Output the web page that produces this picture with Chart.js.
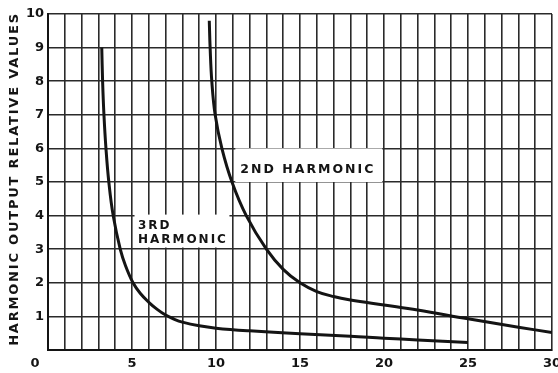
<!DOCTYPE html>
<html>
<head>
<meta charset="utf-8">
<script src="https://cdn.jsdelivr.net/npm/chart.js@4/dist/chart.umd.min.js"></script>
<style>
  html, body { margin: 0; padding: 0; background: #fff; }
  #wrap { width: 558px; height: 373px; }
</style>
</head>
<body>
<div id="wrap"><canvas id="c" width="558" height="373"></canvas></div>
<script>
// Harmonic output curves (relative values) against the x quantity 0..30
const secondX = [9.6, 9.65, 9.75, 9.95, 10.35, 10.95, 11.8, 13.0, 14.0, 15.0, 16.0, 17.0, 18.0, 20.0, 22.0, 25.0, 28.0, 30.0];
const secondY = [9.8, 9.0, 8.0, 7.0, 6.0, 5.0, 4.0, 3.0, 2.4, 2.0, 1.74, 1.59, 1.49, 1.34, 1.19, 0.93, 0.68, 0.52];

const thirdX = [3.2, 3.25, 3.33, 3.45, 3.62, 3.88, 4.3, 4.62, 5.06, 5.5, 6.0, 6.5, 7.0, 7.5, 8.0, 9.0, 10.0, 12.0, 15.0, 18.0, 20.0, 22.0, 25.0];
const thirdY = [9.0, 8.0, 7.0, 6.0, 5.0, 4.0, 3.0, 2.5, 2.0, 1.68, 1.42, 1.21, 1.04, 0.92, 0.83, 0.72, 0.65, 0.57, 0.48, 0.41, 0.35, 0.3, 0.22];

const xTickLabels = [0, 5, 10, 15, 20, 25, 30];
const yTickLabels = [1, 2, 3, 4, 5, 6, 7, 8, 9, 10];
const yTitle = 'HARMONIC OUTPUT RELATIVE VALUES';

// Curve captions: text lines, box corners and text anchor in data units
const notes = [
  { lines: ['2ND HARMONIC'], box: [11.15, 6.0, 19.9, 5.0], at: [11.45, 5.37], size: 12.5 },
  { lines: ['3RD', 'HARMONIC'], box: [5.15, 4.03, 10.8, 3.05], at: [5.35, 3.68], size: 12 }
];

const toPoints = (xs, ys) => xs.map((x, i) => ({ x: x, y: ys[i] }));

const INK = '#141414';
const FONT = "'DejaVu Sans', sans-serif";

const captions = {
  id: 'captions',
  beforeDatasetsDraw(chart) {
    const { ctx, scales: { x, y } } = chart;
    ctx.save();
    notes.forEach(n => {
      const x0 = x.getPixelForValue(n.box[0]);
      const y0 = y.getPixelForValue(n.box[1]);
      const x1 = x.getPixelForValue(n.box[2]);
      const y1 = y.getPixelForValue(n.box[3]);
      ctx.fillStyle = '#fff';
      ctx.fillRect(x0, y0, x1 - x0, y1 - y0);
    });
    ctx.restore();
  },
  afterDatasetsDraw(chart) {
    const { ctx, scales: { x, y } } = chart;
    ctx.save();
    ctx.fillStyle = INK;
    ctx.textBaseline = 'middle';
    ctx.textAlign = 'left';
    ctx.letterSpacing = '2px';
    notes.forEach(n => {
      ctx.font = 'bold ' + n.size + 'px ' + FONT;
      const px = x.getPixelForValue(n.at[0]);
      const py = y.getPixelForValue(n.at[1]);
      n.lines.forEach((t, i) => ctx.fillText(t, px, py + i * 14));
    });
    ctx.restore();
  },
  afterDraw(chart) {
    const { ctx, scales: { x, y } } = chart;
    ctx.save();
    ctx.fillStyle = INK;
    // the origin label sits below and left of the corner
    ctx.font = 'bold 13px ' + FONT;
    ctx.textAlign = 'center';
    ctx.textBaseline = 'middle';
    ctx.fillText(String(xTickLabels[0]), x.getPixelForValue(0) - 13, y.bottom + 14);
    // spaced-out vertical axis title
    ctx.letterSpacing = '1.8px';
    ctx.translate(15, (y.top + y.bottom) / 2 - 3);
    ctx.rotate(-Math.PI / 2);
    ctx.fillText(yTitle, 0, 0);
    ctx.restore();
  }
};

new Chart(document.getElementById('c'), {
  type: 'line',
  data: {
    datasets: [
      { label: '2nd harmonic', data: toPoints(secondX, secondY) },
      { label: '3rd harmonic', data: toPoints(thirdX, thirdY) }
    ]
  },
  options: {
    responsive: false,
    animation: false,
    devicePixelRatio: 1,
    layout: { padding: { top: 14, right: 6, bottom: 0, left: 0 } },
    elements: {
      line: { borderColor: INK, borderWidth: 3, tension: 0.4, fill: false },
      point: { radius: 0, hoverRadius: 0 }
    },
    plugins: { legend: { display: false }, tooltip: { enabled: false } },
    scales: {
      x: {
        type: 'linear',
        min: 0, max: 30,
        border: { display: true, color: INK, width: 2 },
        grid: { color: '#2a2a2a', lineWidth: 1.6, drawTicks: false },
        ticks: {
          stepSize: 1, autoSkip: false, maxRotation: 0, padding: 6,
          color: INK, font: { family: FONT, size: 13, weight: 'bold' },
          callback: v => (v !== 0 && xTickLabels.includes(v)) ? String(v) : ''
        },
        afterFit(s) { s.paddingLeft = 0; s.paddingRight = 0; s.height = 23; }
      },
      y: {
        min: 0, max: 10,
        border: { display: true, color: INK, width: 2 },
        grid: { color: '#2a2a2a', lineWidth: 1.6, drawTicks: false },
        ticks: {
          stepSize: 1, padding: 4, color: INK,
          font: { family: FONT, size: 13, weight: 'bold' },
          callback: v => yTickLabels.includes(v) ? String(v) : ''
        },
        afterFit(s) { s.width = 48; }
      }
    }
  },
  plugins: [captions]
});
</script>
</body>
</html>
